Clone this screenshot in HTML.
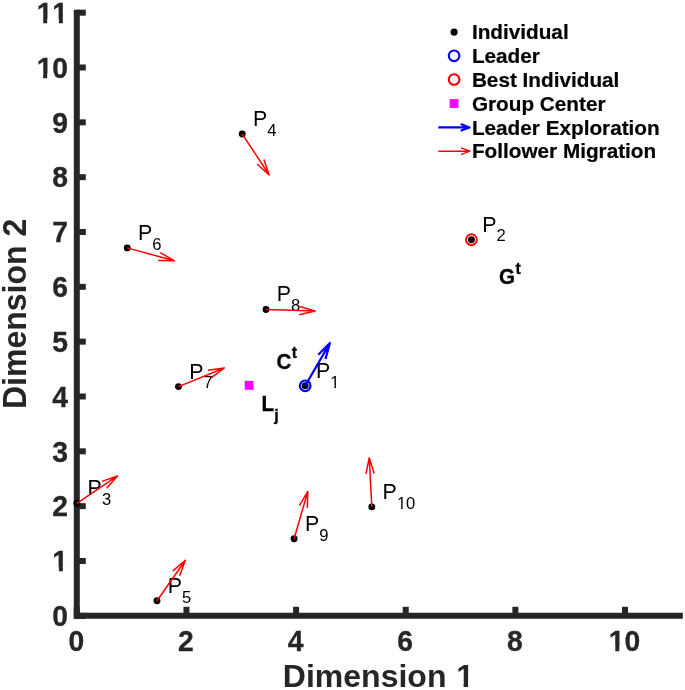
<!DOCTYPE html>
<html><head><meta charset="utf-8"><title>Dimension plot</title>
<style>
html,body{margin:0;padding:0;background:#fff;}
svg{display:block;}
text{font-family:"Liberation Sans",Arial,Helvetica,sans-serif;font-kerning:none;}
.tk{font-size:28.3px;font-weight:bold;fill:#262626;stroke:#262626;stroke-width:0.3px;}
.lab{font-size:32px;font-weight:bold;fill:#262626;}
.lab2{font-size:32px;font-weight:bold;fill:#262626;}
.lg{font-size:20.75px;font-weight:bold;fill:#000;stroke:#000;stroke-width:0.2px;}
.p{font-size:21.4px;fill:#000;}
.ps{font-size:16.6px;}
.b{font-size:20.6px;font-weight:bold;fill:#000;stroke:#000;stroke-width:0.3px;}
.bs{font-size:16px;}
</style></head><body>
<svg width="685" height="690" viewBox="0 0 685 690">
<rect width="685" height="690" fill="#fff"/>

<g stroke="#262626" stroke-width="6.0" fill="none" stroke-linecap="butt">
<path d="M76.80 9.67 V618.80"/>
<path d="M73.80 615.80 H682.82"/>
<path d="M76.80 615.80 h9.0"/>
<path d="M76.80 560.97 h9.0"/>
<path d="M76.80 506.14 h9.0"/>
<path d="M76.80 451.31 h9.0"/>
<path d="M76.80 396.48 h9.0"/>
<path d="M76.80 341.65 h9.0"/>
<path d="M76.80 286.82 h9.0"/>
<path d="M76.80 231.99 h9.0"/>
<path d="M76.80 177.16 h9.0"/>
<path d="M76.80 122.33 h9.0"/>
<path d="M76.80 67.50 h9.0"/>
<path d="M76.80 12.67 h9.0"/>
<path d="M76.80 615.80 v-9.0"/>
<path d="M186.44 615.80 v-9.0"/>
<path d="M296.08 615.80 v-9.0"/>
<path d="M405.72 615.80 v-9.0"/>
<path d="M515.36 615.80 v-9.0"/>
<path d="M625.00 615.80 v-9.0"/>
</g>
<text class="tk" transform="translate(68.10 626.00) scale(1 1.05)" text-anchor="end">0</text>
<text class="tk" transform="translate(68.10 571.17) scale(1 1.05)" text-anchor="end">1</text>
<text class="tk" transform="translate(68.10 516.34) scale(1 1.05)" text-anchor="end">2</text>
<text class="tk" transform="translate(68.10 461.51) scale(1 1.05)" text-anchor="end">3</text>
<text class="tk" transform="translate(68.10 406.68) scale(1 1.05)" text-anchor="end">4</text>
<text class="tk" transform="translate(68.10 351.85) scale(1 1.05)" text-anchor="end">5</text>
<text class="tk" transform="translate(68.10 297.02) scale(1 1.05)" text-anchor="end">6</text>
<text class="tk" transform="translate(68.10 242.19) scale(1 1.05)" text-anchor="end">7</text>
<text class="tk" transform="translate(68.10 187.36) scale(1 1.05)" text-anchor="end">8</text>
<text class="tk" transform="translate(68.10 132.53) scale(1 1.05)" text-anchor="end">9</text>
<text class="tk" transform="translate(68.10 77.70) scale(1 1.05)" text-anchor="end">10</text>
<text class="tk" transform="translate(68.10 22.87) scale(1 1.05)" text-anchor="end">11</text>
<text class="tk" transform="translate(76.30 650.90) scale(1 1.06)" text-anchor="middle">0</text>
<text class="tk" transform="translate(185.94 650.90) scale(1 1.06)" text-anchor="middle">2</text>
<text class="tk" transform="translate(295.58 650.90) scale(1 1.06)" text-anchor="middle">4</text>
<text class="tk" transform="translate(405.22 650.90) scale(1 1.06)" text-anchor="middle">6</text>
<text class="tk" transform="translate(514.86 650.90) scale(1 1.06)" text-anchor="middle">8</text>
<text class="tk" transform="translate(624.50 650.90) scale(1 1.06)" text-anchor="middle">10</text>
<text class="lab" transform="translate(282.85 686.60) scale(1 1.0)">Dimension</text>
<text class="lab" transform="translate(456.16 686.60) scale(1 1.0)">1</text>
<text class="lab2" transform="translate(26.40 313.90) rotate(-90) scale(1 1.03)" text-anchor="middle">Dimension 2</text>
<rect x="53.15" y="567.14" width="5.76" height="5.83" fill="#fff"/>
<rect x="62.91" y="567.14" width="5.39" height="5.83" fill="#fff"/>
<rect x="37.41" y="73.67" width="5.76" height="5.83" fill="#fff"/>
<rect x="47.18" y="73.67" width="5.39" height="5.83" fill="#fff"/>
<rect x="37.41" y="18.84" width="5.76" height="5.83" fill="#fff"/>
<rect x="47.18" y="18.84" width="5.39" height="5.83" fill="#fff"/>
<rect x="53.15" y="18.84" width="5.76" height="5.83" fill="#fff"/>
<rect x="62.91" y="18.84" width="5.39" height="5.83" fill="#fff"/>
<rect x="609.55" y="646.84" width="5.76" height="5.86" fill="#fff"/>
<rect x="619.31" y="646.84" width="5.39" height="5.86" fill="#fff"/>
<rect x="457.18" y="682.34" width="6.39" height="6.06" fill="#fff"/>
<rect x="468.08" y="682.34" width="5.97" height="6.06" fill="#fff"/>
<text class="p" transform="translate(316.00 377.70) scale(1 1.0)">P<tspan class="ps" dy="9.8">1</tspan></text>
<text class="p" transform="translate(482.20 231.60) scale(1 1.0)">P<tspan class="ps" dy="9.8">2</tspan></text>
<text class="p" transform="translate(87.60 495.20) scale(1 1.0)">P<tspan class="ps" dy="9.8">3</tspan></text>
<text class="p" transform="translate(253.00 125.90) scale(1 1.0)">P<tspan class="ps" dy="9.8">4</tspan></text>
<text class="p" transform="translate(167.80 592.70) scale(1 1.0)">P<tspan class="ps" dy="9.8">5</tspan></text>
<text class="p" transform="translate(138.00 239.80) scale(1 1.0)">P<tspan class="ps" dy="9.8">6</tspan></text>
<text class="p" transform="translate(189.30 378.50) scale(1 1.0)">P<tspan class="ps" dy="9.8">7</tspan></text>
<text class="p" transform="translate(276.80 301.40) scale(1 1.0)">P<tspan class="ps" dy="9.8">8</tspan></text>
<text class="p" transform="translate(304.90 530.70) scale(1 1.0)">P<tspan class="ps" dy="9.8">9</tspan></text>
<text class="p" transform="translate(382.60 498.80) scale(1 1.0)">P<tspan class="ps" dy="9.8">10</tspan></text>
<rect x="330.74" y="385.45" width="3.66" height="3.65" fill="#fff"/>
<rect x="335.97" y="385.45" width="3.52" height="3.65" fill="#fff"/>
<rect x="397.34" y="506.55" width="3.66" height="3.65" fill="#fff"/>
<rect x="402.57" y="506.55" width="3.52" height="3.65" fill="#fff"/>
<circle cx="305.20" cy="385.80" r="3.45" fill="#000"/>
<circle cx="471.40" cy="239.70" r="3.45" fill="#000"/>
<circle cx="76.80" cy="503.30" r="3.45" fill="#000"/>
<circle cx="242.20" cy="134.00" r="3.45" fill="#000"/>
<circle cx="157.00" cy="600.80" r="3.45" fill="#000"/>
<circle cx="127.20" cy="247.90" r="3.45" fill="#000"/>
<circle cx="178.50" cy="386.60" r="3.45" fill="#000"/>
<circle cx="266.00" cy="309.50" r="3.45" fill="#000"/>
<circle cx="294.10" cy="538.80" r="3.45" fill="#000"/>
<circle cx="371.80" cy="506.90" r="3.45" fill="#000"/>
<path d="M305.20 385.80 L329.94 342.97 M325.50 359.00 L329.94 342.97 L318.27 354.82" stroke="#0000ff" stroke-width="2.25" fill="none" stroke-linejoin="round" stroke-linecap="butt"/>
<path d="M76.80 503.30 L117.48 475.92 M106.64 488.17 L117.48 475.92 L102.05 481.35" stroke="#ff0000" stroke-width="1.5" fill="none" stroke-linejoin="round" stroke-linecap="butt"/>
<path d="M242.20 134.00 L269.19 174.97 M257.04 164.01 L269.19 174.97 L263.91 159.49" stroke="#ff0000" stroke-width="1.5" fill="none" stroke-linejoin="round" stroke-linecap="butt"/>
<path d="M157.00 600.80 L185.37 560.21 M179.61 575.69 L185.37 560.21 L172.81 570.94" stroke="#ff0000" stroke-width="1.5" fill="none" stroke-linejoin="round" stroke-linecap="butt"/>
<path d="M127.20 247.90 L174.48 260.80 M158.13 260.60 L174.48 260.80 L160.30 252.68" stroke="#ff0000" stroke-width="1.5" fill="none" stroke-linejoin="round" stroke-linecap="butt"/>
<path d="M178.50 386.60 L224.31 367.98 M211.08 377.83 L224.31 367.98 L207.96 370.16" stroke="#ff0000" stroke-width="1.5" fill="none" stroke-linejoin="round" stroke-linecap="butt"/>
<path d="M266.00 309.50 L315.15 311.08 M299.15 314.68 L315.15 311.08 L299.42 306.45" stroke="#ff0000" stroke-width="1.5" fill="none" stroke-linejoin="round" stroke-linecap="butt"/>
<path d="M294.10 538.80 L307.79 491.42 M307.34 507.86 L307.79 491.42 L299.40 505.57" stroke="#ff0000" stroke-width="1.5" fill="none" stroke-linejoin="round" stroke-linecap="butt"/>
<path d="M371.80 506.90 L369.24 457.75 M374.18 473.40 L369.24 457.75 L365.95 473.83" stroke="#ff0000" stroke-width="1.5" fill="none" stroke-linejoin="round" stroke-linecap="butt"/>
<circle cx="305.2" cy="385.8" r="5.3" fill="none" stroke="#0000ff" stroke-width="2.2"/>
<circle cx="471.4" cy="239.7" r="5.4" fill="none" stroke="#ff0000" stroke-width="1.9"/>
<rect x="244.7" y="380.9" width="8.8" height="8.9" fill="#ff00ff"/>
<text class="b" transform="translate(276.50 368.90) scale(1 1.04)">C<tspan class="bs" dx="0.5" dy="-10.58">t</tspan></text>
<text class="b" transform="translate(499.00 284.10) scale(1 1.04)">G<tspan class="bs" dx="0.4" dy="-9.62">t</tspan></text>
<text class="b" transform="translate(261.60 410.90) scale(1 1.04)">L<tspan class="bs" dy="9.42">j</tspan></text>
<text class="lg" transform="translate(471.90 39.30) scale(1 0.95)">Individual</text>
<text class="lg" transform="translate(471.90 63.10) scale(1 0.95)">Leader</text>
<text class="lg" transform="translate(471.90 87.10) scale(1 0.95)">Best Individual</text>
<text class="lg" transform="translate(471.90 111.00) scale(1 0.95)">Group Center</text>
<text class="lg" transform="translate(471.90 134.60) scale(1 0.95)">Leader Exploration</text>
<text class="lg" transform="translate(471.90 158.00) scale(1 0.95)">Follower Migration</text>
<circle cx="454.1" cy="32.1" r="3.6" fill="#000"/>
<circle cx="454.1" cy="55.8" r="5.3" fill="none" stroke="#0000ff" stroke-width="2.1"/>
<circle cx="454.1" cy="79.5" r="5.3" fill="none" stroke="#ff0000" stroke-width="2.1"/>
<rect x="449.7" y="99.1" width="8.8" height="8.9" fill="#ff00ff"/>
<path d="M438.30 127.40 L469.65 127.40 M460.65 130.80 L469.65 127.40 L460.65 124.00" stroke="#0000ff" stroke-width="2.1" fill="none" stroke-linejoin="round" stroke-linecap="butt"/>
<path d="M438.30 151.20 L470.00 151.20 M461.00 154.60 L470.00 151.20 L461.00 147.80" stroke="#ff0000" stroke-width="1.4" fill="none" stroke-linejoin="round" stroke-linecap="butt"/>
</svg></body></html>
